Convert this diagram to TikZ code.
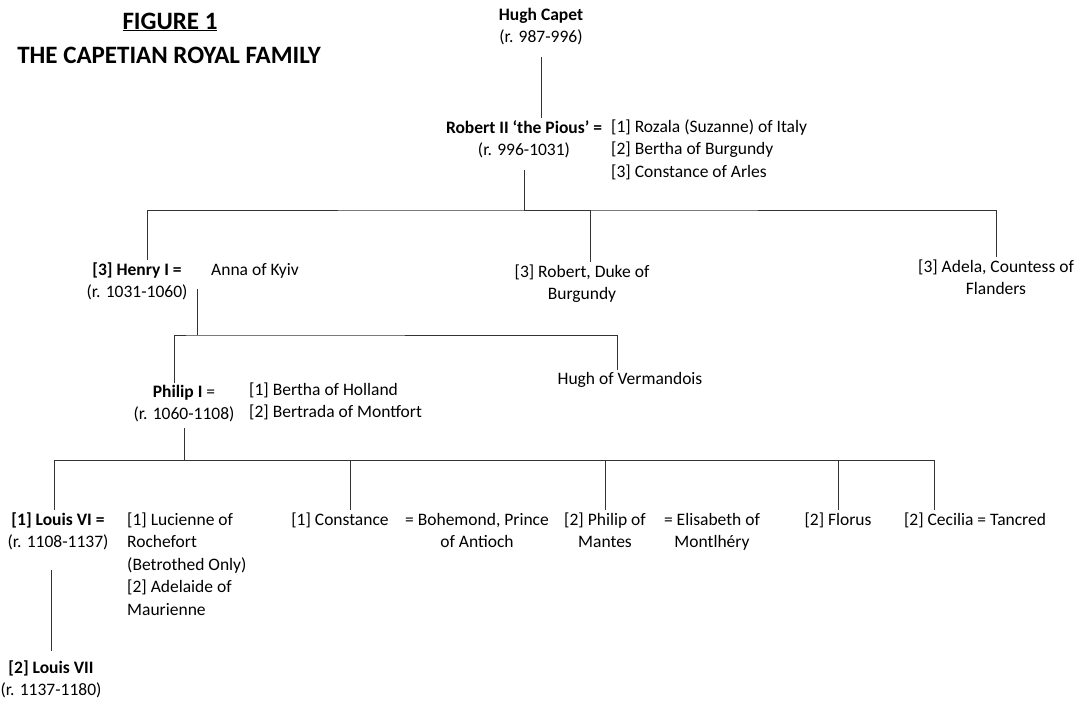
\documentclass[tikz,border=0pt]{standalone}
\usepackage{fontspec}
\setmainfont{Carlito}
\usepackage{tikz}

\newcommand{\bodyfont}{\fontsize{17.5}{22.5}\selectfont}
\newcommand{\titlefont}{\fontsize{25}{28}\selectfont\bfseries}

\begin{document}
\begin{tikzpicture}[x=1pt,y=-1pt,
  person/.style={align=center,anchor=base,inner sep=2pt,font=\bodyfont},
  spouses/.style={align=left,anchor=base west,inner sep=0pt,font=\bodyfont},
  tree/.style={line width=0.8pt,draw=black!80}]
\useasboundingbox (0,0) rectangle (1086,705);

% title
\node (fig) at (170,22) {\titlefont\underline{FIGURE 1}};
\node (title) at (169,55) {\titlefont THE CAPETIAN ROYAL FAMILY};

% (base anchor = baseline of the last line)
\node[person] (hugh) at (541,42.5) {\textbf{Hugh Capet}\\(r. 987-996)};
\node[person] (robert) at (524,155.5) {\textbf{Robert II ‘the Pious’ =}\\(r. 996-1031)};
\node[spouses] (robsp) at (611,177) {[1] Rozala (Suzanne) of Italy\\{}[2] Bertha of Burgundy\\{}[3] Constance of Arles};


\node[person] (henry) at (137,297.5) {\textbf{[3] Henry I =}\\(r. 1031-1060)};
\node[spouses] (anna) at (211,275) {Anna of Kyiv};
\node[person] (robduke) at (582,299.5) {[3] Robert, Duke of\\Burgundy};
\node[person] (adela) at (996,294.5) {[3] Adela, Countess of\\Flanders};


\node[person] (philip) at (184,419.5) {\textbf{Philip I} =\\(r. 1060-1108)};
\node[spouses] (philsp) at (249,417.5) {[1] Bertha of Holland\\{}[2] Bertrada of Montfort};
\node[person] (hughverm) at (630,384) {Hugh of Vermandois};


\node[person] (louis6) at (58,547.5) {\textbf{[1] Louis VI =}\\(r. 1108-1137)};
\node[spouses] (louis6sp) at (127,615) {[1] Lucienne of\\Rochefort\\(Betrothed Only)\\{}[2] Adelaide of\\Maurienne};
\node[person] (louis7) at (51,695.5) {\textbf{[2] Louis VII}\\(r. 1137-1180)};
\node[person] (constance) at (340,525) {[1] Constance};
\node[person] (bohemond) at (477,547.5) {= Bohemond, Prince\\of Antioch};
\node[person] (philmantes) at (605,547.5) {[2] Philip of\\Mantes};
\node[person] (elisabeth) at (712,547.5) {= Elisabeth of\\Montlhéry};
\node[person] (florus) at (838,525) {[2] Florus};
\node[person] (cecilia) at (975,525) {[2] Cecilia = Tancred};

\coordinate (bar1) at (524,210);
\coordinate (bar2) at (197,335);
\coordinate (bar3) at (184,460);

\draw[tree,shorten <=10pt] (hugh.south) -- (hugh.south |- robert.north);
\draw[tree,shorten <=10pt] (robert.south) -- (bar1);
\draw[tree] ([xshift=10pt]henry.north) |- (bar1) -| (adela.north);
\draw[tree] (bar1) -| ([xshift=8pt]robduke.north);

\draw[tree] ([yshift=-8pt]bar2 |- henry.east) -- (bar2);
\draw[tree] ([xshift=-10pt]philip.north) |- (bar2) -| ([xshift=-13pt]hughverm.north);

\draw[tree,shorten <=4pt] (philip.south) -- (bar3);
\draw[tree] ([xshift=-4pt]louis6.north) |- (bar3) -| ([xshift=-41pt]cecilia.north);
\draw[tree] (bar3) -| ([xshift=10pt]constance.north);
\draw[tree] (bar3) -| (philmantes.north);
\draw[tree] (bar3) -| (florus.north);
\draw[tree,shorten <=18pt,shorten >=7pt] (louis7.north |- louis6.south) -- (louis7.north);

\end{tikzpicture}
\end{document}
